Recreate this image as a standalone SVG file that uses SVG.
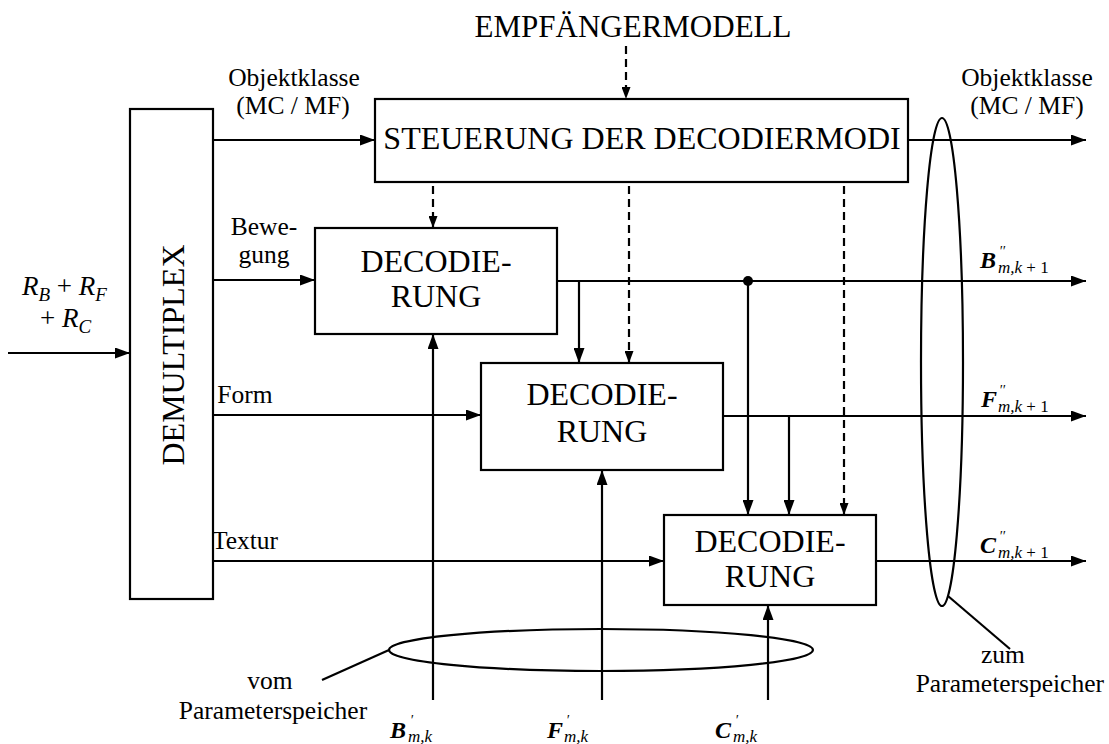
<svg xmlns="http://www.w3.org/2000/svg" width="1109" height="744" viewBox="0 0 1109 744">
<style>
text{font-family:"Liberation Serif","Times New Roman",serif;fill:#000}
.big{font-size:32px}
.lbl{font-size:25.5px}
.box{fill:#fff;stroke:#000;stroke-width:2.2}
.ln{fill:none;stroke:#000;stroke-width:2.2}
.dash{fill:none;stroke:#000;stroke-width:2.2;stroke-dasharray:8 5}
.bi{font-weight:bold;font-style:italic;font-size:24px}
.sub{font-style:italic;font-size:17px;font-weight:normal}
.subr{font-style:normal;font-size:17px;font-weight:normal}
.pr{font-size:14px;font-weight:normal;font-style:italic}
.it{font-style:italic;font-size:27px}
.its{font-style:italic;font-size:19px}
</style>
<defs>
<marker id="ah" markerUnits="userSpaceOnUse" markerWidth="15" markerHeight="11" refX="15" refY="5.5" orient="auto">
<path d="M0,0 L15,5.5 L0,11 z" fill="#000" stroke="none"/>
</marker>
<marker id="ahs" markerUnits="userSpaceOnUse" markerWidth="12" markerHeight="9" refX="12" refY="4.5" orient="auto">
<path d="M0,0 L12,4.5 L0,9 z" fill="#000" stroke="none"/>
</marker>
</defs>

<g id="connectors">
<line class="ln" x1="8" y1="353" x2="130" y2="353" marker-end="url(#ah)"/>
<line class="ln" x1="213" y1="140" x2="375" y2="140" marker-end="url(#ah)"/>
<line class="ln" x1="908" y1="140" x2="1086" y2="140" marker-end="url(#ah)"/>
<line class="dash" x1="626" y1="46" x2="626" y2="99" marker-end="url(#ahs)"/>
<line class="dash" x1="433" y1="186" x2="433" y2="228" marker-end="url(#ahs)"/>
<line class="dash" x1="629" y1="186" x2="629" y2="363" marker-end="url(#ahs)"/>
<line class="dash" x1="844" y1="186" x2="844" y2="515" marker-end="url(#ahs)"/>
<line class="ln" x1="213" y1="280" x2="315" y2="280" marker-end="url(#ah)"/>
<line class="ln" x1="557" y1="281" x2="1086" y2="281" marker-end="url(#ah)"/>
<circle cx="748" cy="281" r="5" fill="#000"/>
<line class="ln" x1="579" y1="281" x2="579" y2="363" marker-end="url(#ah)"/>
<line class="ln" x1="748" y1="281" x2="748" y2="515" marker-end="url(#ah)"/>
<line class="ln" x1="213" y1="415" x2="481" y2="415" marker-end="url(#ah)"/>
<line class="ln" x1="723" y1="416" x2="1086" y2="416" marker-end="url(#ah)"/>
<line class="ln" x1="789" y1="416" x2="789" y2="515" marker-end="url(#ah)"/>
<line class="ln" x1="213" y1="561" x2="664" y2="561" marker-end="url(#ah)"/>
<line class="ln" x1="876" y1="561" x2="1086" y2="561" marker-end="url(#ah)"/>
<line class="ln" x1="433" y1="700" x2="433" y2="334" marker-end="url(#ah)"/>
<line class="ln" x1="602" y1="700" x2="602" y2="470" marker-end="url(#ah)"/>
<line class="ln" x1="768" y1="700" x2="768" y2="605" marker-end="url(#ah)"/>
<ellipse class="ln" cx="601" cy="650" rx="212" ry="21"/>
<line class="ln" x1="322" y1="680" x2="389" y2="650"/>
<ellipse class="ln" cx="942" cy="362" rx="21" ry="244"/>
<line class="ln" x1="948" y1="596" x2="1010" y2="649"/>
</g>

<g id="demux">
<rect class="box" x="130" y="109" width="83" height="490"/>
<text class="big" text-anchor="middle" transform="translate(184,355) rotate(-90)">DEMULTIPLEX</text>
</g>

<g id="control">
<rect class="box" x="375" y="99" width="533" height="83"/>
<text class="big" x="642" y="149" text-anchor="middle">STEUERUNG DER DECODIERMODI</text>
</g>

<g id="dec1">
<rect class="box" x="315" y="228" width="242" height="106"/>
<text class="big" x="436" y="272" text-anchor="middle">DECODIE-</text>
<text class="big" x="436" y="307" text-anchor="middle">RUNG</text>
</g>

<g id="dec2">
<rect class="box" x="481" y="363" width="242" height="107"/>
<text class="big" x="602" y="405" text-anchor="middle">DECODIE-</text>
<text class="big" x="602" y="442" text-anchor="middle">RUNG</text>
</g>

<g id="dec3">
<rect class="box" x="664" y="515" width="212" height="90"/>
<text class="big" x="770" y="552" text-anchor="middle">DECODIE-</text>
<text class="big" x="770" y="587" text-anchor="middle">RUNG</text>
</g>

<g id="labels">
<text style="font-size:31px" x="633" y="37" text-anchor="middle">EMPFÄNGERMODELL</text>
<text class="lbl" x="294" y="86" text-anchor="middle">Objektklasse</text>
<text class="lbl" x="293" y="114" text-anchor="middle">(MC / MF)</text>
<text class="lbl" x="1027" y="86" text-anchor="middle">Objektklasse</text>
<text class="lbl" x="1027" y="114" text-anchor="middle">(MC / MF)</text>
<text class="lbl" x="264" y="235" text-anchor="middle">Bewe-</text>
<text class="lbl" x="264" y="263" text-anchor="middle">gung</text>
<text class="lbl" x="245" y="403" text-anchor="middle">Form</text>
<text class="lbl" x="245" y="549" text-anchor="middle">Textur</text>
<text class="lbl" x="270" y="689" text-anchor="middle">vom</text>
<text class="lbl" x="273" y="719" text-anchor="middle">Parameterspeicher</text>
<text class="lbl" x="1003" y="663" text-anchor="middle">zum</text>
<text class="lbl" x="1104" y="692" text-anchor="end">Parameterspeicher</text>

<text x="22" y="295"><tspan class="it">R</tspan><tspan class="its" dy="6">B</tspan><tspan style="font-size:27px" dy="-6"> + </tspan><tspan class="it">R</tspan><tspan class="its" dy="6">F</tspan></text>
<text x="40" y="327"><tspan style="font-size:27px">+ </tspan><tspan class="it">R</tspan><tspan class="its" dy="6">C</tspan></text>

<text class="bi" x="980" y="268">B<tspan class="pr" x="999" y="256">′′</tspan><tspan class="sub" x="998" y="273">m,k</tspan><tspan class="subr"> + 1</tspan></text>
<text class="bi" x="981" y="407">F<tspan class="pr" x="999" y="395">′′</tspan><tspan class="sub" x="998" y="412">m,k</tspan><tspan class="subr"> + 1</tspan></text>
<text class="bi" x="980" y="553">C<tspan class="pr" x="999" y="541">′′</tspan><tspan class="sub" x="998" y="558">m,k</tspan><tspan class="subr"> + 1</tspan></text>

<text class="bi" x="390" y="738">B<tspan class="pr" x="410" y="725">′</tspan><tspan class="sub" x="408" y="742">m,k</tspan></text>
<text class="bi" x="547" y="738">F<tspan class="pr" x="566" y="725">′</tspan><tspan class="sub" x="564" y="742">m,k</tspan></text>
<text class="bi" x="715" y="738">C<tspan class="pr" x="735" y="725">′</tspan><tspan class="sub" x="733" y="742">m,k</tspan></text>
</g>
</svg>
